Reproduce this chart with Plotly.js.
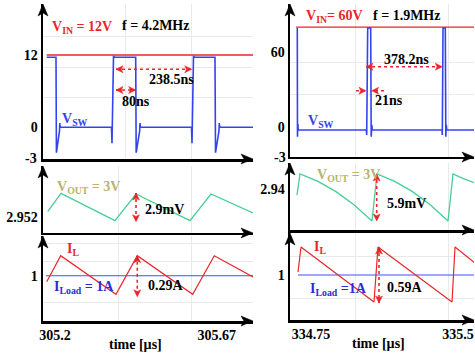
<!DOCTYPE html>
<html><head><meta charset="utf-8">
<script src="https://cdn.plot.ly/plotly-3.0.1.min.js"></script>
<style>html,body{margin:0;padding:0;background:#fff}#chart{width:475px;height:356px}</style>
</head><body><div id="chart"></div>
<script>
// ---------- LEFT PANEL DATA (VIN = 12 V, f = 4.2 MHz), time in µs ----------
const leftVswTime  = [305.1759, 305.2029, 305.2041, 305.2131, 305.2140, 305.2151, 305.3642, 305.3657, 305.3701, 305.3730, 305.4346, 305.4360, 305.4462, 305.4471, 305.4483, 305.5968, 305.5983, 305.6026, 305.6055, 305.6651, 305.6666, 305.6767, 305.6776, 305.6788, 305.7756];
const leftVswValue = [11.62, 11.62, -4.22, -0.6, 0.7, 0, 0, -2.66, 11.83, 11.62, 11.62, -4.22, -0.6, 0.7, 0, 0, -2.66, 11.83, 11.62, 11.62, -4.22, -0.6, 0.7, 0, 0];
const leftVinTime  = [305.1759, 305.7756];
const leftVinValue = [12, 12];
const leftVoutTime  = [305.1788, 305.2174, 305.3744, 305.4355, 305.5924, 305.6535, 305.7756];
const leftVoutValue = [2.95254, 2.95451, 2.95157, 2.95444, 2.95157, 2.95444, 2.95240];
const leftIlTime  = [305.1759, 305.2166, 305.3773, 305.4392, 305.6003, 305.6631, 305.7756];
const leftIlValue = [0.955, 1.150, 0.860, 1.150, 0.860, 1.150, 0.990];
const leftIloadTime  = [305.1738, 305.7756];
const leftIloadValue = [1, 1];
const leftXTicks = [305.2, 305.67];
const leftTopYTicks = [0, 12];
const leftMidYTicks = [2.952];
const leftBotYTicks = [1];

// ---------- RIGHT PANEL DATA (VIN = 60 V, f = 1.9 MHz) ----------
const rightVswTime  = [334.6801, 334.6811, 334.6832, 334.6852, 335.0321, 335.0342, 335.0393, 335.0546, 335.0571, 335.0602, 335.0628, 335.4184, 335.4199, 335.4235, 335.4352, 335.4378, 335.4403, 335.4429, 335.5867];
const rightVswValue = [79.6, -8.1, 2.2, -2.66, -2.66, -6.7, 79.6, 79.6, -8.1, 1.5, -2.66, -2.66, -6.7, 79.6, 79.6, -8.1, 1.5, -2.66, -2.66];
const rightVinTime  = [334.6735, 335.5867];
const rightVinValue = [80.3, 80.3];
const rightVoutTime  = [334.6786, 334.6939, 334.7857, 334.8776, 334.9694, 335.0612, 335.0867, 335.1773, 335.2679, 335.3584, 335.4490, 335.4745, 335.5306, 335.5867];
const rightVoutValue = [2.93928, 2.94192, 2.94100, 2.93971, 2.93805, 2.93602, 2.94192, 2.94100, 2.93971, 2.93805, 2.93602, 2.94192, 2.94132, 2.94079];
const rightIlTime  = [334.6837, 334.6990, 335.0714, 335.0918, 335.4694, 335.4847, 335.5867];
const rightIlValue = [1.032, 1.300, 0.710, 1.300, 0.710, 1.300, 1.129];
const rightIloadTime  = [334.6837, 335.5867];
const rightIloadValue = [1, 1];
const rightXTicks = [334.75, 335.5];
const rightTopYTicks = [0, 60];
const rightMidYTicks = [2.94];
const rightBotYTicks = [1];
const axisFloorLabel = '-3';

// ---------- STYLE ----------
const RED = '#e8262a', BLUE = '#3344ee', GREEN = '#45cf95', OLIVE = '#b8b46a', TBLUE = '#2b2bdd';
const FONT = 'Liberation Serif, Times New Roman, serif';
const W = 475, H = 356;
const px = x => x / W, py = y => 1 - y / H;

function line(x, y, xa, ya, color, width) {
  return {x, y, xaxis: xa, yaxis: ya, type: 'scatter', mode: 'lines', line: {color, width}, hoverinfo: 'skip'};
}
const data = [
  line(leftVinTime, leftVinValue, 'x', 'y', RED, 1.3),
  line(leftVswTime, leftVswValue, 'x', 'y', BLUE, 1.6),
  line(leftVoutTime, leftVoutValue, 'x2', 'y2', GREEN, 1.3),
  line(leftIloadTime, leftIloadValue, 'x3', 'y3', '#4050ff', 1.1),
  line(leftIlTime, leftIlValue, 'x3', 'y3', RED, 1.2),
  line(rightVinTime, rightVinValue, 'x4', 'y4', RED, 1.3),
  line(rightVswTime, rightVswValue, 'x4', 'y4', BLUE, 1.6),
  line(rightVoutTime, rightVoutValue, 'x5', 'y5', GREEN, 1.3),
  line(rightIloadTime, rightIloadValue, 'x6', 'y6', '#4050ff', 1.1),
  line(rightIlTime, rightIlValue, 'x6', 'y6', RED, 1.2)
];

const tickFont = {family: FONT, size: 14, color: '#000', weight: 'bold'};
function axis(domain, range, tickvals, anchor, minorVals) {
  const a = {domain, range, anchor, showline: true, linecolor: '#000', linewidth: 2.5,
    zeroline: false, showgrid: false, ticks: '', fixedrange: true, tickfont: tickFont};
  if (tickvals) { a.tickmode = 'array'; a.tickvals = tickvals; a.ticktext = tickvals.map(String); }
  else { a.showticklabels = false; }
  if (minorVals) a.minor = {tickmode: 'array', tickvals: minorVals, showgrid: true, gridcolor: '#e9e9e9', gridwidth: 1, ticks: ''};
  return a;
}
const LX = [43 / W, 253 / W], RX = [290 / W, 474 / W];
const LXR = [305.16512, 305.77558], RXR = [334.6429, 335.5816];
const layout = {
  width: W, height: H, margin: {l: 0, r: 0, t: 0, b: 0},
  paper_bgcolor: '#fff', plot_bgcolor: '#fff', showlegend: false,
  font: {family: FONT, size: 14, color: '#000'},
  xaxis:  axis(LX, LXR, null, 'y',  [305.4035, 305.5974]),
  yaxis:  axis([0.55337, 0.98876], [-5.26, 20.46], leftTopYTicks, 'x', [5, 10, 15]),
  xaxis2: axis(LX, LXR, null, 'y2', [305.385, 305.5974]),
  yaxis2: axis([0.34551, 0.53371], [2.950249, 2.957446], leftMidYTicks, 'x2'),
  xaxis3: axis(LX, LXR, leftXTicks, 'y3', [305.385, 305.5974]),
  yaxis3: axis([0.09831, 0.33708], [0.6597, 1.2983], leftBotYTicks, 'x3', [0.8, 1.105, 1.243]),
  xaxis4: axis(RX, RXR, null, 'y4', [334.975, 335.45]),
  yaxis4: axis([0.55899, 0.98876], [-24.44, 98.95], rightTopYTicks, 'x4', [26, 52]),
  xaxis5: axis(RX, RXR, null, 'y5', [334.975, 335.45]),
  yaxis5: axis([0.35393, 0.54213], [2.934891, 2.943302], rightMidYTicks, 'x5'),
  xaxis6: axis(RX, RXR, rightXTicks, 'y6', [334.975, 335.45]),
  yaxis6: axis([0.10112, 0.34551], [0.5172, 1.4506], rightBotYTicks, 'x6', [0.75, 1.2]),
  annotations: [], shapes: []
};
const A = layout.annotations, S = layout.shapes;

// triangle heads drawn as pixel-sized path shapes (positive y = up)
function tri(xr, yr, x, y, dir, len, half, color) {
  let p;
  if (dir === 'up')    p = `M0,0 L${-half},${-len} L0,${-len * 0.75} L${half},${-len} Z`;
  if (dir === 'down')  p = `M0,0 L${-half},${len} L0,${len * 0.75} L${half},${len} Z`;
  if (dir === 'right') p = `M0,0 L${-len},${half} L${-len * 0.75},0 L${-len},${-half} Z`;
  if (dir === 'left')  p = `M0,0 L${len},${half} L${len * 0.75},0 L${len},${-half} Z`;
  S.push({type: 'path', xref: xr, yref: yr, xsizemode: 'pixel', ysizemode: 'pixel',
    xanchor: x, yanchor: y, path: p, fillcolor: color, line: {color, width: 0.5}, layer: 'above'});
}

// axis arrowheads
[['x','y'],['x2','y2'],['x3','y3'],['x4','y4'],['x5','y5'],['x6','y6']].forEach(([xa, ya]) => {
  tri(xa + ' domain', ya + ' domain', 0, 1, 'up', 12, 5, '#000');
  tri(xa + ' domain', ya + ' domain', 1, 0, 'right', 12, 5, '#000');
});

// red dotted measurement arrows
function dotted(xr, yr, x0, y0, x1, y1) {
  S.push({type: 'line', xref: xr, yref: yr, x0, y0, x1, y1, line: {color: RED, width: 1.6, dash: 'dot'}});
}
function head(xr, yr, x, y, dir) { tri(xr, yr, x, y, dir, 7, 3.5, RED); }
function dblH(xr, yr, x0, x1, y) { dotted(xr, yr, x0, y, x1, y); head(xr, yr, x0, y, 'left'); head(xr, yr, x1, y, 'right'); }
function dblV(xr, yr, x, y0, y1) { dotted(xr, yr, x, y0, x, y1); head(xr, yr, x, y0, 'up'); head(xr, yr, x, y1, 'down'); }

dblH('x', 'y', 305.3773, 305.5974, 9.63);
dblH('x', 'y', 305.3773, 305.4346, 6.19);
dblV('x2', 'y2', 305.4355, 2.95454, 2.95146);
dblV('x3', 'y3', 305.4392, 1.150, 0.842);
dblH('x4', 'y4', 335.0306, 335.4199, 48.4);
dotted('x4', 'y4', 334.9796, 29.0, 335.0306, 29.0); head('x4', 'y4', 335.0306, 29.0, 'right');
dotted('x4', 'y4', 335.1224, 29.0, 335.0597, 29.0); head('x4', 'y4', 335.0597, 29.0, 'left');
dblV('x5', 'y5', 335.0852, 2.94192, 2.93602);
dblV('x6', 'y6', 335.0969, 1.300, 0.700);

// text labels
function label(text, x, y, color, anchor) {
  A.push({xref: 'paper', yref: 'paper', x: px(x), y: py(y), xanchor: anchor || 'left', yanchor: 'middle',
    text, showarrow: false, font: {family: FONT, size: 14, color, weight: 'bold'}});
}
label('V<sub>IN</sub> = 12V', 50, 27, RED);
label('f = 4.2MHz', 120, 25, '#000');
label('238.5ns', 147, 79, '#000');
label('80ns', 120, 102, '#000');
label('V<sub>SW</sub>', 60, 120, BLUE);
label('V<sub>OUT</sub> = 3V', 55, 187, OLIVE);
label('2.9mV', 143, 209, '#000');
label('I<sub>L</sub>', 65, 249, RED);
label('I<sub>Load</sub> = 1A', 52, 287, TBLUE);
label('0.29A', 146, 285, '#000');
label('time [µs]', 135, 344, '#000', 'center');
label(axisFloorLabel, 39, 158, '#000', 'right');

label('V<sub>IN</sub>= 60V', 304, 17, RED);
label('f = 1.9MHz', 371, 15, '#000');
label('378.2ns', 382, 59, '#000');
label('21ns', 373, 100, '#000');
label('V<sub>SW</sub>', 306, 121, BLUE);
label('V<sub>OUT</sub> = 3V', 315, 175, OLIVE);
label('5.9mV', 385, 203, '#000');
label('I<sub>L</sub>', 312, 247, RED);
label('I<sub>Load</sub> =1A', 308, 289, TBLUE);
label('0.59A', 385, 287, '#000');
label('time [µs]', 378, 343, '#000', 'center');
label(axisFloorLabel, 288, 157, '#000', 'right');

Plotly.newPlot('chart', data, layout, {staticPlot: true, displayModeBar: false});
</script>
</body></html>
